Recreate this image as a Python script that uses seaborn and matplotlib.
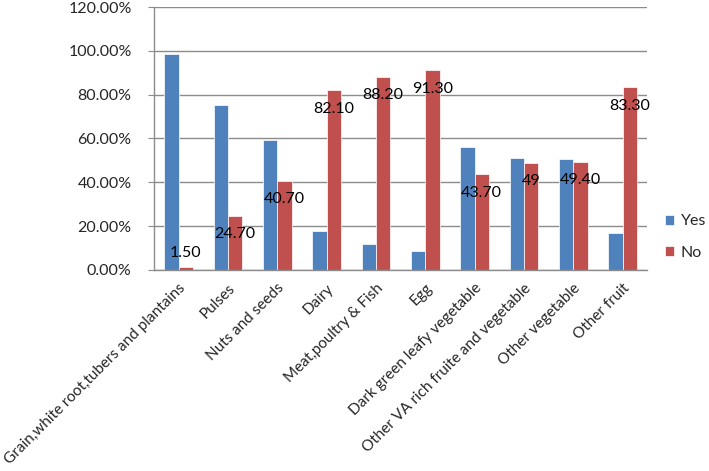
import pandas as pd
import seaborn as sns
import matplotlib.pyplot as plt
from matplotlib.ticker import FixedLocator, FuncFormatter

categories = ["Grain,white root,tubers and plantains", "Pulses", "Nuts and seeds",
              "Dairy", "Meat,poultry & Fish", "Egg", "Dark green leafy vegetable",
              "Other VA rich fruite and vegetable", "Other vegetable", "Other fruit"]
yes_values = [98.5, 75.3, 59.3, 17.9, 11.8, 8.7, 56.3, 51.0, 50.6, 16.7]
no_values = [1.5, 24.7, 40.7, 82.1, 88.2, 91.3, 43.7, 49.0, 49.4, 83.3]
no_labels = ["1.50", "24.70", "40.70", "82.10", "88.20", "91.30", "43.70", "49", "49.40", "83.30"]

df = pd.concat([
    pd.DataFrame({"category": categories, "value": yes_values, "answer": "Yes"}),
    pd.DataFrame({"category": categories, "value": no_values, "answer": "No"}),
])

sns.set_style("white")
plt.rcParams['font.family'] = ['Lato', 'DejaVu Sans']

fig = plt.figure(figsize=(7.09, 4.71), dpi=100)
ax = fig.add_axes([0.217, 0.427, 0.696, 0.558])
sns.barplot(df, x="category", y="value", hue="answer", ax=ax,
            palette={"Yes": "#4F81BD", "No": "#C0504D"}, width=0.58,
            edgecolor="white", linewidth=0.5, saturation=1)

ax.set_ylim(0, 120)
ax.set_xlim(-0.5, len(categories) - 0.5)
ax.set_yticks(range(0, 121, 20))
ax.yaxis.set_major_formatter(FuncFormatter(lambda v, p: f"{v:.2f}%"))
ax.grid(axis="y", color="#8c8c8c", linewidth=1)
ax.set_axisbelow(True)
ax.set_xlabel("")
ax.set_ylabel("")

for s in ["top", "right"]:
    ax.spines[s].set_visible(False)
for s in ["left", "bottom"]:
    ax.spines[s].set_color("#8c8c8c")
    ax.spines[s].set_linewidth(1)

ax.set_xticks(range(len(categories)))
ax.set_xticklabels(categories, rotation=45, ha="right", rotation_mode="anchor", fontsize=11)
ax.tick_params(axis="x", which="major", length=0, pad=8)
ax.xaxis.set_minor_locator(FixedLocator([i - 0.5 for i in range(len(categories) + 1)]))
ax.tick_params(axis="x", which="minor", length=5, color="#8c8c8c", width=1)
ax.tick_params(axis="y", length=4, color="#8c8c8c", labelsize=11.5, left=True, pad=12)

# data labels for the "No" series
for i, (v, t) in enumerate(zip(no_values, no_labels)):
    y = v + 6 if v < 10 else v - 8.5
    ax.text(i + 0.14, y, t, ha="center", va="center", fontsize=11.5, color="black")

ax.legend(loc="center left", bbox_to_anchor=(1.035, 0.125), frameon=False,
          fontsize=11.5, handlelength=0.6, handleheight=0.6, handletextpad=0.4,
          labelspacing=1.1, borderpad=0, borderaxespad=0)

fig.savefig("out.png", dpi=100)
